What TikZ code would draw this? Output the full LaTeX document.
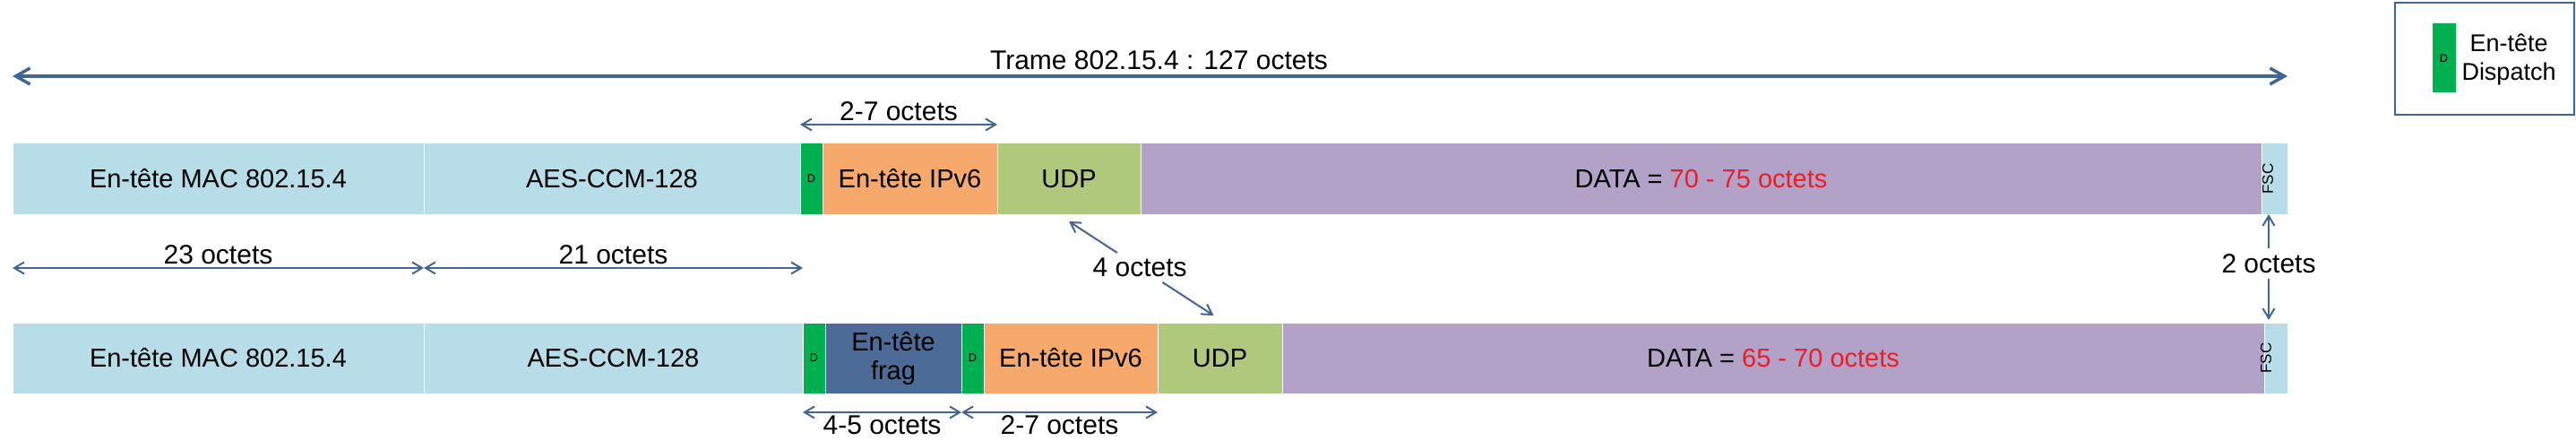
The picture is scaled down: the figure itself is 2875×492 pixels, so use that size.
\documentclass[tikz,border=0pt]{standalone}
\usepackage{fontspec}
\setmainfont{Liberation Sans}
\usepackage{graphicx}
\usetikzlibrary{arrows.meta}
\usetikzlibrary{calc}
\usetikzlibrary{positioning}

\definecolor{macblue}{HTML}{B7DDE8}
\definecolor{dispgreen}{HTML}{00B050}
\definecolor{ipvorange}{HTML}{F6A96B}
\definecolor{udpgreen}{HTML}{AFC87C}
\definecolor{datapurple}{HTML}{B2A2C7}
\definecolor{fragblue}{HTML}{4C6B97}
\definecolor{dimblue}{HTML}{426594}
\definecolor{octred}{HTML}{EE1C25}

\newcommand{\fsctext}[1]{\kern-#1\makebox[0pt]{\rotatebox{90}{FSC}}\kern#1}

\begin{document}
\begin{tikzpicture}[x=0.5pt,y=0.5pt]
	\tikzstyle{every node}+=[inner sep=0pt, outer sep=0pt]
	\tikzset{
		seg/.style={draw=white, line width=0.5pt, minimum height=39.5pt, font=\fontsize{14.5}{16}\selectfont},
		dseg/.style={seg, fill=dispgreen, minimum width=12.5pt, font=\fontsize{6.3}{7}\selectfont},
		fscseg/.style={seg, fill=macblue, font=\fontsize{8.5}{9}\selectfont},
		dim/.style={draw=dimblue, line width=1pt, {Straight Barb[length=5.5pt,width=6.5pt]}-{Straight Barb[length=5.5pt,width=6.5pt]}},
		bigdim/.style={draw=dimblue, line width=1.75pt, {Straight Barb[length=8pt,width=9pt]}-{Straight Barb[length=8pt,width=9pt]}},
		halfdim/.style={draw=dimblue, line width=1pt, -{Straight Barb[length=5.5pt,width=6.5pt]}},
		octets/.style={font=\fontsize{15}{16}\selectfont, inner sep=2pt}
	}
	\useasboundingbox (0,0) rectangle (2875,-492);

	\node [seg, fill=macblue, minimum width=229.5pt, anchor=north west] (mac1) at (14,-160) {En-tête MAC 802.15.4};
	\node [seg, fill=macblue, minimum width=210pt, right=0pt of mac1] (aes1) {AES-CCM-128};
	\node [dseg, right=0pt of aes1] (disp1) {D};
	\node [seg, fill=ipvorange, minimum width=97.5pt, right=0pt of disp1] (ip1) {En-tête IPv6};
	\node [seg, fill=udpgreen, minimum width=80pt, right=0pt of ip1] (udp1) {UDP};
	\node [seg, fill=datapurple, minimum width=625.5pt, right=0pt of udp1] (data1) {DATA = \textcolor{octred}{70 - 75 octets}};
	\node [fscseg, minimum width=14.5pt, right=0pt of data1] (fsc1) {\fsctext{3.75pt}};

	\node [seg, fill=macblue, minimum width=229.5pt, anchor=north west] (mac2) at (14,-360) {En-tête MAC 802.15.4};
	\node [seg, fill=macblue, minimum width=211.5pt, right=0pt of mac2] (aes2) {AES-CCM-128};
	\node [dseg, right=0pt of aes2] (disp2) {D};
	\node [seg, fill=fragblue, minimum width=76pt, right=0pt of disp2, align=center] (frag2) {En-tête\\frag};
	\node [dseg, right=0pt of frag2] (disp3) {D};
	\node [seg, fill=ipvorange, minimum width=97pt, right=0pt of disp3] (ip2) {En-tête IPv6};
	\node [seg, fill=udpgreen, minimum width=69.5pt, right=0pt of ip2] (udp2) {UDP};
	\node [seg, fill=datapurple, minimum width=548pt, right=0pt of udp2] (data2) {DATA = \textcolor{octred}{65 - 70 octets}};
	\node [fscseg, minimum width=13pt, right=0pt of data2] (fsc2) {\fsctext{5.5pt}};

	\draw [bigdim] ([yshift=37.5pt]mac1.north west) -- ([yshift=37.5pt]fsc1.north east) node [midway, above, octets, inner sep=3.5pt, xshift=5pt] (trame) {Trame 802.15.4 : 127 octets};
	\draw [dim] ([yshift=10.5pt]disp1.north west) -- ([yshift=10.5pt]ip1.north east) node [midway, above, octets] (ip1len) {2-7 octets};
	\draw [dim] ([yshift=30.5pt]mac2.north west) -- ([yshift=30.5pt]mac2.north east) node [midway, above, octets] (maclen) {23 octets};
	\draw [dim] ([yshift=30.5pt]aes2.north west) -- ([yshift=30.5pt]aes2.north east) node [midway, above, octets] (aeslen) {21 octets};
	\draw [dim] ([yshift=-10.5pt]disp2.south west) -- ([yshift=-10.5pt]disp3.south west) node [midway, below, octets] (fraglen) {4-5 octets};
	\draw [dim] ([yshift=-10.5pt]disp3.south west) -- ([yshift=-10.5pt]ip2.south east) node [midway, below, octets] (ip2len) {2-7 octets};

	\coordinate (udptop) at ([yshift=-4pt]udp1.south);
	\coordinate (udpbot) at ([xshift=-3.5pt,yshift=4pt]udp2.north);
	\node [octets, inner sep=3pt] (udplen) at ($(udptop)!0.49!(udpbot)$) {4 octets};
	\draw [halfdim] (udplen) -- (udptop);
	\draw [halfdim] (udplen) -- (udpbot);

	\node [octets, inner sep=3pt] (fsclen) at (2532,-294) {2 octets};
	\draw [halfdim] (fsclen) -- (fsclen |- fsc1.south);
	\draw [halfdim] (fsclen) -- ([yshift=1.5pt]fsclen |- fsc2.north);

	\node [draw=dimblue, line width=1pt, minimum width=100pt, minimum height=62.5pt] (legend) at (2773,-65.5) {};
	\node [dseg, minimum width=13.5pt, minimum height=39pt] (legdisp) at (2727.5,-65) {D};
	\node [octets, font=\fontsize{13.5}{16}\selectfont, align=center] (legtext) at (2800,-66) {En-tête\\Dispatch};
\end{tikzpicture}
\end{document}
